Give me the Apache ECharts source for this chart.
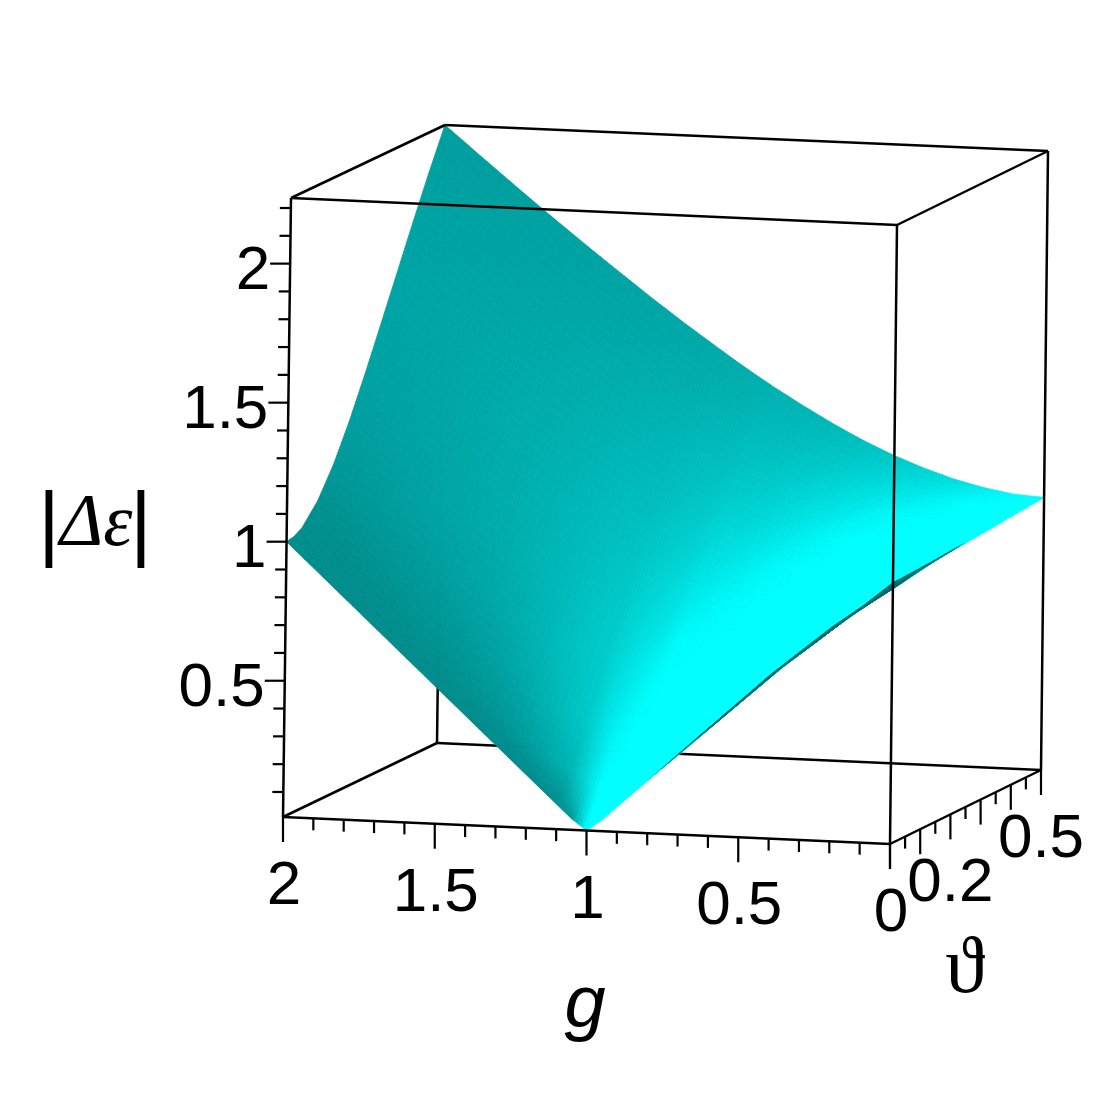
<!DOCTYPE html>
<html>
<head>
<meta charset="utf-8">
<title>|Δε| surface</title>
<script src="https://cdn.jsdelivr.net/npm/echarts@6/dist/echarts.min.js"></script>
<style>
  html, body { margin: 0; padding: 0; background: #fff; }
  #chart { width: 1113px; height: 1113px; filter: blur(0.6px); }
</style>
</head>
<body>
<div id="chart"></div>
<script>
// surface grid, values
const gValues = [0, 0.1, 0.2, 0.3, 0.4, 0.5, 0.6, 0.7, 0.8, 0.9, 0.95, 1, 1.05, 1.1, 1.2, 1.3, 1.4, 1.5, 1.6, 1.7, 1.8, 1.9, 2];
const thetaValues = [0, 0.025, 0.05, 0.1, 0.15, 0.2, 0.25, 0.3, 0.35, 0.4, 0.45, 0.5];

// |Δε| along g, one row per theta
const rowT000 = [0.95, 0.86, 0.78, 0.69, 0.6, 0.5, 0.4, 0.3, 0.2, 0.1, 0.05, 0.01, 0.05, 0.1, 0.2, 0.3, 0.4, 0.5, 0.6, 0.7, 0.8, 0.9, 1];
const rowT025 = [0.95, 0.86, 0.781, 0.691, 0.602, 0.503, 0.405, 0.307, 0.212, 0.125, 0.091, 0.079, 0.095, 0.13, 0.218, 0.313, 0.411, 0.509, 0.608, 0.707, 0.807, 0.907, 1.006];
const rowT050 = [0.952, 0.863, 0.784, 0.695, 0.608, 0.512, 0.418, 0.328, 0.244, 0.179, 0.161, 0.157, 0.168, 0.193, 0.264, 0.349, 0.441, 0.536, 0.632, 0.729, 0.827, 0.926, 1.024];
const rowT100 = [0.955, 0.869, 0.794, 0.712, 0.632, 0.547, 0.468, 0.398, 0.344, 0.313, 0.309, 0.313, 0.324, 0.343, 0.397, 0.466, 0.545, 0.63, 0.719, 0.81, 0.903, 0.998, 1.094];
const rowT150 = [0.958, 0.878, 0.81, 0.737, 0.669, 0.599, 0.539, 0.493, 0.463, 0.454, 0.458, 0.467, 0.481, 0.5, 0.549, 0.611, 0.682, 0.76, 0.842, 0.928, 1.016, 1.106, 1.198];
const rowT200 = [0.962, 0.891, 0.831, 0.77, 0.716, 0.664, 0.624, 0.598, 0.588, 0.595, 0.604, 0.618, 0.635, 0.656, 0.706, 0.766, 0.834, 0.907, 0.986, 1.067, 1.152, 1.239, 1.328];
const rowT250 = [0.966, 0.905, 0.856, 0.809, 0.771, 0.737, 0.715, 0.707, 0.713, 0.733, 0.748, 0.765, 0.786, 0.809, 0.862, 0.923, 0.99, 1.062, 1.139, 1.219, 1.302, 1.387, 1.474];
const rowT300 = [0.97, 0.921, 0.885, 0.853, 0.831, 0.814, 0.809, 0.817, 0.836, 0.867, 0.886, 0.908, 0.932, 0.958, 1.015, 1.078, 1.146, 1.219, 1.296, 1.375, 1.457, 1.542, 1.628];
const rowT350 = [0.975, 0.939, 0.917, 0.899, 0.893, 0.892, 0.903, 0.924, 0.956, 0.996, 1.02, 1.045, 1.072, 1.101, 1.162, 1.229, 1.3, 1.374, 1.452, 1.532, 1.614, 1.699, 1.784];
const rowT400 = [0.98, 0.958, 0.949, 0.947, 0.955, 0.97, 0.995, 1.028, 1.07, 1.12, 1.147, 1.176, 1.206, 1.237, 1.303, 1.374, 1.447, 1.524, 1.604, 1.685, 1.769, 1.854, 1.94];
const rowT450 = [0.985, 0.977, 0.983, 0.995, 1.017, 1.046, 1.083, 1.127, 1.179, 1.236, 1.267, 1.299, 1.332, 1.366, 1.437, 1.511, 1.588, 1.668, 1.749, 1.833, 1.918, 2.004, 2.092];
const rowT500 = [0.99, 0.997, 1.016, 1.042, 1.077, 1.118, 1.166, 1.221, 1.281, 1.345, 1.379, 1.414, 1.45, 1.487, 1.562, 1.64, 1.721, 1.803, 1.887, 1.972, 2.059, 2.147, 2.236];
const zRows = [rowT000, rowT025, rowT050, rowT100, rowT150, rowT200, rowT250, rowT300, rowT350, rowT400, rowT450, rowT500];

// tick values and labels
const gMajorTicks = [0, 0.5, 1, 1.5, 2];
const gMinorTicks = [0.1, 0.2, 0.3, 0.4, 0.6, 0.7, 0.8, 0.9, 1.1, 1.2, 1.3, 1.4, 1.6, 1.7, 1.8, 1.9];
const thetaMajorTicks = [0, 0.1, 0.2, 0.3, 0.4, 0.5];
const thetaMinorTicks = [0.05, 0.15, 0.25, 0.35, 0.45];
const zMajorTicks = [0.5, 1, 1.5, 2];
const zMinorTicks = [0.1, 0.2, 0.3, 0.4, 0.6, 0.7, 0.8, 0.9, 1.1, 1.2, 1.3, 1.4, 1.6, 1.7, 1.8, 1.9, 2.1, 2.2];
const gTickLabels = ['2', '1.5', '1', '0.5', '0'];
const gTickLabelValues = [2, 1.5, 1, 0.5, 0];
const thetaTickLabels = ['0.2', '0.5'];
const thetaTickLabelValues = [0.2, 0.5];
const zTickLabels = ['0.5', '1', '1.5', '2'];
const zTickLabelValues = [0.5, 1, 1.5, 2];

// box ranges and where its corners land on the page: [g=0 / g=2][theta=0 / theta=0.5][z low / z high]
const G_MAX = 2, T_MAX = 0.5, Z_MIN = 0.01, Z_MAX = 2.236;
const boxCorners = [
  [[[890, 844], [897, 225]], [[1041, 770], [1048, 151]]],
  [[[283, 817], [291, 198]], [[437, 743], [445, 125]]]
];

function project(g, t, z) {
  const a = g / G_MAX, b = t / T_MAX, c = (z - Z_MIN) / (Z_MAX - Z_MIN);
  const out = [0, 0];
  for (let i = 0; i < 2; i++) {
    for (let j = 0; j < 2; j++) {
      for (let k = 0; k < 2; k++) {
        const w = (i ? a : 1 - a) * (j ? b : 1 - b) * (k ? c : 1 - c);
        out[0] += w * boxCorners[i][j][k][0];
        out[1] += w * boxCorners[i][j][k][1];
      }
    }
  }
  return out;
}

// view direction for the painter sort and for lighting
const viewG = [-303.5, 13.5, -90];      // per unit g
const viewT = [302, 148, -1006];        // per unit theta
const viewZ = [3, 278, 42];             // per unit z

function depthOf(g, t, z) {
  return 90 * g + 1006 * t - 42 * z;
}

function slope(values, arr, i) {
  const a = Math.max(i - 1, 0), b = Math.min(i + 1, arr.length - 1);
  return (arr[b] - arr[a]) / (values[b] - values[a]);
}

// brightness of a grid vertex, fitted by eye to the picture's teal to cyan shading
function shadeAt(i, j) {
  const zg = slope(gValues, zRows[j], i);
  const zt = slope(thetaValues, zRows.map(r => r[i]), j);
  const tg = viewG.map((v, k) => v + zg * viewZ[k]);
  const tt = viewT.map((v, k) => v + zt * viewZ[k]);
  const n = [
    tt[1] * tg[2] - tt[2] * tg[1],
    tt[2] * tg[0] - tt[0] * tg[2],
    tt[0] * tg[1] - tt[1] * tg[0]
  ];
  const len = Math.hypot(n[0], n[1], n[2]) || 1;
  if (n[2] < 0) return 0.42;   // underside
  return Math.min(1, 1.135 - 0.766 * n[0] / len - 0.318 * n[2] / len);
}

const shades = zRows.map((row, j) => row.map((v, i) => shadeAt(i, j)));

function colorOf(s) {
  const v = Math.round(255 * s);
  return 'rgb(0,' + v + ',' + v + ')';
}

// cells sorted far to near
const cells = [];
for (let j = 0; j < thetaValues.length - 1; j++) {
  for (let i = 0; i < gValues.length - 1; i++) {
    const g = (gValues[i] + gValues[i + 1]) / 2;
    const t = (thetaValues[j] + thetaValues[j + 1]) / 2;
    const z = (zRows[j][i] + zRows[j][i + 1] + zRows[j + 1][i] + zRows[j + 1][i + 1]) / 4;
    cells.push([i, j, depthOf(g, t, z)]);
  }
}
cells.sort((a, b) => b[2] - a[2]);

const CELL_STEPS = 5;  // smooth shading inside a cell

function renderCell(params, api) {
  const i = api.value(0), j = api.value(1);
  const pt = (a, b) => api.coord(project(gValues[a], thetaValues[b], zRows[b][a]));
  const p00 = pt(i, j), p10 = pt(i + 1, j), p11 = pt(i + 1, j + 1), p01 = pt(i, j + 1);
  const s00 = shades[j][i], s10 = shades[j][i + 1], s11 = shades[j + 1][i + 1], s01 = shades[j + 1][i];
  const mix = (a, b, c, d, u, v) => (1 - v) * ((1 - u) * a + u * b) + v * ((1 - u) * d + u * c);
  const at = (u, v) => [
    mix(p00[0], p10[0], p11[0], p01[0], u, v),
    mix(p00[1], p10[1], p11[1], p01[1], u, v)
  ];
  const children = [];
  for (let b = CELL_STEPS - 1; b >= 0; b--) {
    for (let a = CELL_STEPS - 1; a >= 0; a--) {
      const u0 = a / CELL_STEPS, u1 = (a + 1) / CELL_STEPS;
      const v0 = b / CELL_STEPS, v1 = (b + 1) / CELL_STEPS;
      const c = colorOf(mix(s00, s10, s11, s01, (u0 + u1) / 2, (v0 + v1) / 2));
      children.push({
        type: 'polygon',
        shape: { points: [at(u0, v0), at(u1, v0), at(u1, v1), at(u0, v1)] },
        style: { fill: c, stroke: c, lineWidth: 0.8 }
      });
    }
  }
  return { type: 'group', children: children };
}

// box edges as pairs of [g, theta, z]
const L = Z_MIN, H = Z_MAX;
const backEdges = [
  [[2, 0.5, L], [2, 0.5, H]],
  [[2, 0.5, L], [0, 0.5, L]]
];
const frontEdges = [
  [[2, 0, L], [2, 0, H]], [[0, 0, L], [0, 0, H]], [[0, 0.5, L], [0, 0.5, H]],
  [[2, 0, L], [0, 0, L]], [[2, 0, L], [2, 0.5, L]], [[0, 0, L], [0, 0.5, L]],
  [[2, 0, H], [0, 0, H]], [[2, 0, H], [2, 0.5, H]], [[0, 0, H], [0, 0.5, H]], [[2, 0.5, H], [0, 0.5, H]]
];

function edgeSeries(edges, z) {
  return {
    type: 'custom',
    coordinateSystem: 'cartesian2d',
    z: z,
    silent: true,
    data: edges.map((e, idx) => [idx]),
    renderItem: (params, api) => {
      const e = edges[api.value(0)];
      const a = api.coord(project(e[0][0], e[0][1], e[0][2]));
      const b = api.coord(project(e[1][0], e[1][1], e[1][2]));
      return {
        type: 'line',
        shape: { x1: a[0], y1: a[1], x2: b[0], y2: b[1] },
        style: { stroke: '#000', lineWidth: 2.5 }
      };
    }
  };
}

// ticks: [start point on the box, dx, dy]
const tickMarks = [];
gMajorTicks.forEach(v => tickMarks.push([project(v, 0, L), 0, 25]));
gMinorTicks.forEach(v => tickMarks.push([project(v, 0, L), 0, 12]));
thetaMajorTicks.forEach(v => tickMarks.push([project(0, v, L), 0, 25]));
thetaMinorTicks.forEach(v => tickMarks.push([project(0, v, L), 0, 12]));
zMajorTicks.forEach(v => tickMarks.push([project(2, 0, v), -20, 0]));
zMinorTicks.forEach(v => tickMarks.push([project(2, 0, v), -11, 0]));

// tick labels: [text, anchor, align]
const labelItems = [];
gTickLabels.forEach((s, i) => {
  const p = project(gTickLabelValues[i], 0, L);
  labelItems.push([s, [p[0] + 1, p[1] + 70], 'center']);
});
thetaTickLabels.forEach((s, i) => {
  const p = project(0, thetaTickLabelValues[i], L);
  labelItems.push([s, [p[0], p[1] + 70], 'center']);
});
zTickLabels.forEach((s, i) => {
  const p = project(2, 0, zTickLabelValues[i]);
  labelItems.push([s, [p[0] - 20, p[1] + 8], 'right']);
});

const myChart = echarts.init(document.getElementById('chart'), null, { renderer: 'canvas' });

const option = {
  backgroundColor: '#fff',
  animation: false,
  tooltip: { show: false },
  grid: { left: 0, right: 0, top: 0, bottom: 0 },
  xAxis: { type: 'value', min: 0, max: 1113, show: false },
  yAxis: { type: 'value', min: 0, max: 1113, inverse: true, show: false },
  graphic: {
    elements: [
      { type: 'text', x: 585, y: 1006, style: { text: 'g', font: 'italic 74px "Liberation Sans"', fill: '#000', align: 'center', verticalAlign: 'middle' } },
      { type: 'text', x: 965, y: 971, style: { text: 'ϑ', font: '80px "Liberation Serif"', fill: '#000', align: 'center', verticalAlign: 'middle' } },
      { type: 'text', x: 96, y: 526, style: { text: 'Δε', font: 'italic 74px "Liberation Serif"', fill: '#000', align: 'center', verticalAlign: 'middle' } },
      { type: 'text', x: 49, y: 528, style: { text: '|', font: '84px "Liberation Sans"', fill: '#000', align: 'center', verticalAlign: 'middle' } },
      { type: 'text', x: 141, y: 528, style: { text: '|', font: '84px "Liberation Sans"', fill: '#000', align: 'center', verticalAlign: 'middle' } }
    ]
  },
  series: [
    edgeSeries(backEdges, 1),
    {
      type: 'custom',
      coordinateSystem: 'cartesian2d',
      z: 2,
      silent: true,
      progressive: 0,
      data: cells,
      renderItem: renderCell
    },
    edgeSeries(frontEdges, 3),
    {
      type: 'custom',
      coordinateSystem: 'cartesian2d',
      z: 3,
      silent: true,
      data: tickMarks.map((t, idx) => [idx]),
      renderItem: (params, api) => {
        const t = tickMarks[api.value(0)];
        const a = api.coord(t[0]);
        return {
          type: 'line',
          shape: { x1: a[0], y1: a[1], x2: a[0] + t[1], y2: a[1] + t[2] },
          style: { stroke: '#000', lineWidth: 2.2 }
        };
      }
    },
    {
      type: 'custom',
      coordinateSystem: 'cartesian2d',
      z: 4,
      silent: true,
      data: labelItems.map((t, idx) => [idx]),
      renderItem: (params, api) => {
        const t = labelItems[api.value(0)];
        const a = api.coord(t[1]);
        return {
          type: 'text',
          x: a[0],
          y: a[1],
          style: {
            text: t[0],
            font: '62px "Liberation Sans"',
            fill: '#000',
            align: t[2],
            verticalAlign: 'middle'
          }
        };
      }
    }
  ]
};

myChart.setOption(option);
</script>
</body>
</html>
